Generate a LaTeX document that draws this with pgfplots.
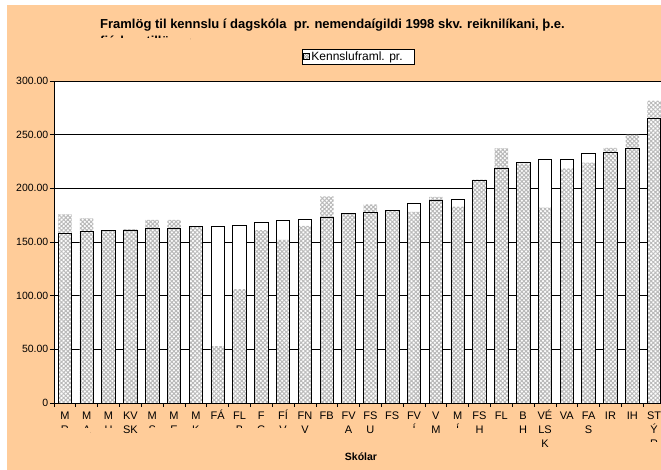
\documentclass[border=0pt]{standalone}
\usepackage{fontspec}
\setmainfont{Liberation Sans}
\usepackage{pgfplots}
\pgfplotsset{compat=1.18}
\usetikzlibrary{patterns.meta}
\definecolor{bg}{RGB}{255,204,153}
\newcommand\cut[1]{\sbox0{#1}\rlap{\usebox0}\textcolor{bg}{\rule[-0.3em]{\wd0}{0.8em}}}
\newcommand\cutt[1]{\sbox0{#1}\rlap{\usebox0}\textcolor{bg}{\rule[-0.3em]{\wd0}{0.85em}}}
\begin{document}
\begin{tikzpicture}
\fill[white] (-54pt,-67pt) rectangle (607pt,403pt);
\fill[bg] (-47pt,-67pt) rectangle (607pt,398pt);
\begin{axis}[
  at={(0pt,0pt)}, anchor=south west,
  width=611pt, height=322pt, scale only axis,
  axis background/.style={fill=white},
  xmin=-0.5, xmax=27.5, ymin=0, ymax=300,
  ytick={0,50,...,300},
  yticklabels={0,50.00,100.00,150.00,200.00,250.00,300.00},
  ymajorgrids, grid style={black, line width=0.7pt},
  axis x line*=bottom, axis y line*=left,
  axis line style={black, line width=0.8pt, -},
  tick align=outside, major tick length=4pt,
  tick style={black, line width=0.7pt},
  yticklabel style={font=\fontsize{10.5}{12}\selectfont, inner sep=1.5pt},
  xtick={-0.5,0.5,...,27.5}, xticklabels={},
  extra x ticks={0,1,...,27},
  extra x tick labels={{M\\\cut{R}},{M\\\cut{A}},{M\\\cut{H}},{KV\\SK},{M\\\cut{S}},{M\\\cut{E}},{M\\\cut{K}},{F\smash{Á}},{FL\\\cut{B}},{F\\\cut{G}},{F\smash{Í}\\\cut{V}},{FN\\V},{FB},{FV\\A},{FS\\U},{FS},{FV\\\cut{Í}},{V\\M},{M\\\cut{Í}},{FS\\H},{FL},{B\\H},{V\smash{É}\\LS\\K},{VA},{FA\\S},{IR},{IH},{ST\\Ý\\\cut{R}}},
  extra x tick style={major tick length=0pt},
  xticklabel style={font=\fontsize{11}{14.3}\selectfont, align=center, anchor=north, inner sep=2pt, yshift=-6.5pt},
  legend style={at={(0.498,1.076)}, anchor=center, draw=black, line width=0.6pt, fill=white,
    font=\fontsize{12}{13}\selectfont, inner xsep=1pt, inner ysep=0.5pt},
  legend image code/.code={\draw[pattern={Hatch[angle=45,distance=2pt,line width=0.6pt]}, pattern color=gray!70, draw=black, line width=0.4pt] (0pt,-3pt) rectangle (6pt,3pt);},
]
\addplot[ybar, bar width=13.5pt, bar shift=0pt, fill=white, draw=none, forget plot] coordinates {
(0,157.7) (1,159.6) (2,160.9) (3,161) (4,162.7) (5,163) (6,164.3) (7,164.9) (8,165.5) (9,168.0)
(10,170.5) (11,171.4) (12,172.7) (13,177) (14,178) (15,179) (16,186) (17,188.5) (18,189.8) (19,207.8)
(20,219) (21,223.9) (22,227) (23,227.3) (24,232.6) (25,233.9) (26,237.6) (27,265.5)};
\addplot[ybar, bar width=13.5pt, bar shift=0pt, draw=none, preaction={fill=white},
  pattern={Hatch[angle=45,distance=3pt,line width=1pt]}, pattern color=gray!55] coordinates {
(0,175.8) (1,172.1) (2,161) (3,162) (4,170.5) (5,170.5) (6,164) (7,53) (8,106) (9,161)
(10,152) (11,165) (12,192.5) (13,176.5) (14,185) (15,179) (16,178) (17,192) (18,183) (19,208)
(20,237.3) (21,223) (22,182) (23,218.7) (24,224) (25,237.6) (26,249.7) (27,281.7)};
\addlegendentry{\makebox[100pt][l]{Kennsluframl. pr.}}
\addplot[ybar, bar width=13.5pt, bar shift=0pt, fill=none, draw=black, line width=0.8pt, forget plot] coordinates {
(0,157.7) (1,159.6) (2,160.9) (3,161) (4,162.7) (5,163) (6,164.3) (7,164.9) (8,165.5) (9,168.0)
(10,170.5) (11,171.4) (12,172.7) (13,177) (14,178) (15,179) (16,186) (17,188.5) (18,189.8) (19,207.8)
(20,219) (21,223.9) (22,227) (23,227.3) (24,232.6) (25,233.9) (26,237.6) (27,265.5)};
\end{axis}
\node[font=\bfseries\fontsize{13}{15}\selectfont, anchor=base west, inner sep=0pt] at (46pt,374pt) {Framlög til kennslu í dagskóla \ pr. nemendaígildi 1998 skv. reiknilíkani, þ.e.};
\node[font=\bfseries\fontsize{13}{15}\selectfont, anchor=base west, inner sep=0pt] at (46pt,357.5pt) {\cutt{fjárlagatillögur}};
\node[font=\bfseries\fontsize{10.5}{12}\selectfont] at (307pt,-54pt) {Skólar};
\pgfresetboundingbox
\useasboundingbox (-54pt,-67pt) rectangle (607pt,403pt);
\end{tikzpicture}
\end{document}
